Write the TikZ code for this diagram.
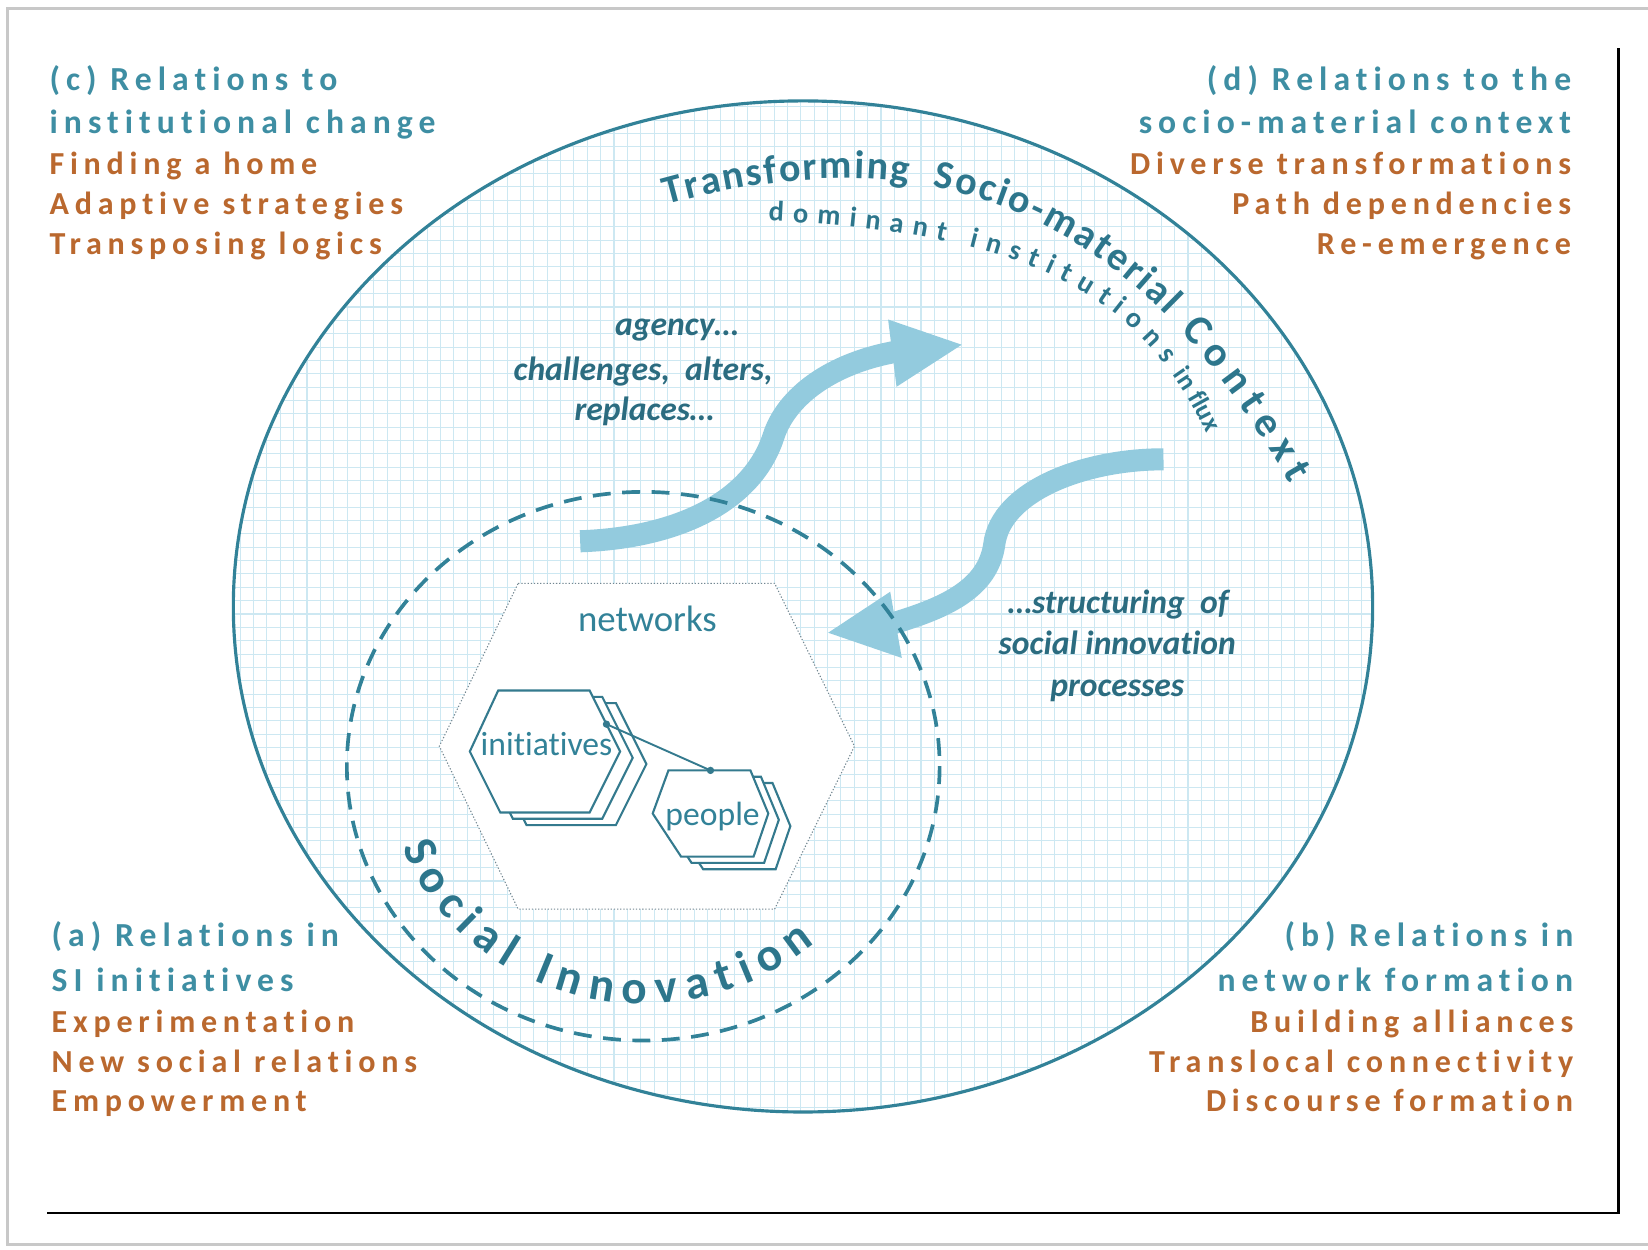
\documentclass[tikz,border=0pt]{standalone}
\usepackage{fontspec}
\setmainfont{Carlito}[Ligatures=NoCommon]
\newfontfamily\hdfont{Carlito}[LetterSpace=18,Ligatures=NoCommon]
\usetikzlibrary{decorations.text}
\definecolor{hdteal}{RGB}{62,142,163}
\definecolor{hdorange}{RGB}{186,104,46}
\definecolor{lineteal}{RGB}{50,130,152}
\definecolor{dkteal}{RGB}{43,108,128}
\definecolor{arcteal}{RGB}{45,118,140}
\definecolor{gridblue}{RGB}{205,232,242}
\definecolor{arrowblue}{RGB}{147,203,222}
\definecolor{hexteal}{RGB}{52,122,142}
\definecolor{dotgray}{RGB}{115,135,145}
\definecolor{framegray}{RGB}{200,200,200}
\newcommand\arcfont{\fontsize{38}{42}\selectfont\bfseries\color{arcteal}}
\newcommand\ctxfont{\fontsize{40}{44}\selectfont\bfseries\color{arcteal}}
\newcommand\subarcfont{\fontsize{27}{30}\selectfont\bfseries\color{arcteal}}
\newcommand\fluxfont{\fontsize{25}{28}\selectfont\bfseries\color{arcteal}}
\newcommand\sifont{\fontsize{45}{50}\selectfont\bfseries\color{arcteal}}
\begin{document}
\begin{tikzpicture}[x=1pt,y=-1pt,
  hd/.style={font=\hdfont\fontsize{32}{36}\selectfont\bfseries, text=hdteal, inner sep=0pt},
  item/.style={font=\hdfont\fontsize{30.5}{35}\selectfont\bfseries, text=hdorange, inner sep=0pt},
  ital/.style={font=\fontsize{32}{38}\selectfont\bfseries\itshape, text=dkteal, inner sep=0pt, anchor=base},
  hexlbl/.style={font=\fontsize{32}{36}\selectfont, text=lineteal, inner sep=0pt},
  smallhex/.style={draw=hexteal, line width=2pt, fill=white, line join=miter},
  shaft/.style={draw=arrowblue, line width=21pt},
  headtri/.style={fill=arrowblue},
]
\useasboundingbox (0,0) rectangle (1568,1189);
\fill[white] (0,0) rectangle (1568,1189);
% frame
\draw[framegray, line width=2.5pt] (1568,8) -- (7,8) -- (7,1184) -- (1568,1184);
\draw[black, line width=3pt] (1540,46) -- (1540,1155);
\draw[black, line width=2pt] (45,1154) -- (1541.5,1154);

% outer ellipse with grid
\coordinate (oc) at (764,577);
\fill[white] (oc) ellipse [x radius=542, y radius=481];
\begin{scope}
  \clip (oc) ellipse [x radius=542, y radius=481];
  \draw[gridblue, line width=1pt, step=12.7pt] (200,1100) grid (1340,80);
\end{scope}
\draw[lineteal, line width=3pt] (oc) ellipse [x radius=542, y radius=481];

% network hexagon
\draw[dotgray, line width=1pt, dash pattern=on 1.2pt off 1.8pt, fill=white]
  (493,555) -- (737,555) -- (813,710) -- (737,865) -- (493,865) -- (418,710) -- cycle;

% arrows
\coordinate (a1s) at (552,515);
\coordinate (a1m) at (736,415);
\coordinate (a1e) at (856,334);
\draw[shaft] (a1s) .. controls (640,512) and (715,480) .. (a1m) .. controls (748,378) and (790,345) .. (a1e);
\fill[headtri] (915,328) -- (845,304) -- (853,368) -- cycle;
\coordinate (a2s) at (1107,437);
\coordinate (a2m) at (946,518);
\coordinate (a2e) at (850,593);
\draw[shaft] (a2s) .. controls (1030,437) and (952,468) .. (a2m) .. controls (940,560) and (900,578) .. (a2e);
\fill[headtri] (788,602) -- (847,563) -- (858,626) -- cycle;

% dashed circle
\draw[lineteal, line width=3.5pt, dash pattern=on 17pt off 11pt] (612,729) ellipse [x radius=282, y radius=261];

% initiatives hexagons
\foreach \dx/\dy in {25/12, 12/6, 0/0}
  \draw[smallhex, shift={(\dx,\dy)}] (447,715) -- (474,657) -- (561,657) -- (590,715) -- (561,773) -- (476,773) -- cycle;
% people hexagons
\foreach \dx/\dy in {21/12, 10/6, 0/0}
  \draw[smallhex, shift={(\dx,\dy)}] (621,774) -- (636,733) -- (714,733) -- (731,774) -- (717,815) -- (648,815) -- cycle;

\node[hexlbl, font=\fontsize{35}{40}\selectfont] (net) at (616,589) {networks};
\node[hexlbl] (ini) at (520,708) {initiatives};
\node[hexlbl] (peo) at (678,777) {people};

\coordinate (inidot) at (577,689);
\coordinate (peodot) at (676,733);
\draw[hexteal, line width=1.8pt] (inidot) -- (peodot);
\fill[hexteal] (inidot) circle [radius=3.5] (peodot) circle [radius=3.5];

% italic texts
\node[ital] (ag1) at (644,319) {agency…};
\node[ital] (ag2) at (612,362) {challenges,\ \ alters,};
\node[ital] (ag3) at (613,400) {replaces…};
\node[ital] (st1) at (1064,584) {…structuring\ \ of};
\node[ital] (st2) at (1063,623) {social innovation};
\node[ital] (st3) at (1063,663) {processes};

% curved texts
\path[decorate, decoration={text along path, text={|\arcfont|Transforming}, text align={fit to path}}]
  (634,195) .. controls (722.4,170.3) and (798.4,165) .. (864.4,174);
\path[decorate, decoration={text along path, text={|\arcfont|Socio-material}, text align={fit to path}}]
  (886.9,177.8) .. controls (980,195.5) and (1052,242) .. (1109.7,300.4);
\path[decorate, decoration={text along path, text={|\ctxfont|Context}, text align={fit to path}}]
  (1123,314.4) .. controls (1164.6,359.5) and (1198.5,410.5) .. (1227.5,460.2);
\path[decorate, decoration={text along path, text={|\subarcfont|dominant institutions}, text align={fit to path}}]
  (731,210) .. controls (930.2,219.6) and (1040.4,258.6) .. (1108.3,346.6);
\path[decorate, decoration={text along path, text={|\fluxfont|in flux}}]
  (1115.8,356.7) .. controls (1129.6,376.2) and (1141.5,397.9) .. (1152,422) -- (1162,445);
\path[decorate, decoration={text along path, text={|\sifont|Social Innovation}, text align={fit to path}}]
  plot[domain=160:48, samples=80] ({612+244*cos(\x)}, {729+226*sin(\x)});

% corner texts
\node[hd, anchor=base west] (c1) at (47,86) {(c) Relations to};
\node[hd, anchor=base west] (c2) at (47,127) {institutional change};
\node[item, anchor=base west] (c3) at (47,166) {Finding a home};
\node[item, anchor=base west] (c4) at (47,204) {Adaptive strategies};
\node[item, anchor=base west] (c5) at (47,242) {Transposing logics};

\node[hd, anchor=base east] (d1) at (1495,86) {(d) Relations to the};
\node[hd, anchor=base east] (d2) at (1495,127) {socio-material context};
\node[item, anchor=base east] (d3) at (1495,166) {Diverse transformations};
\node[item, anchor=base east] (d4) at (1495,204) {Path dependencies};
\node[item, anchor=base east] (d5) at (1495,242) {Re-emergence};

\node[hd, anchor=base west] (a1) at (49,901) {(a) Relations in};
\node[hd, anchor=base west] (a2) at (49,943) {SI initiatives};
\node[item, anchor=base west] (a3) at (49,982) {Experimentation};
\node[item, anchor=base west] (a4) at (49,1020) {New social relations};
\node[item, anchor=base west] (a5) at (49,1058) {Empowerment};

\node[hd, anchor=base east] (b1) at (1497,901) {(b) Relations in};
\node[hd, anchor=base east] (b2) at (1497,943) {network formation};
\node[item, anchor=base east] (b3) at (1497,982) {Building alliances};
\node[item, anchor=base east] (b4) at (1497,1020) {Translocal connectivity};
\node[item, anchor=base east] (b5) at (1497,1058) {Discourse formation};
\end{tikzpicture}
\end{document}
